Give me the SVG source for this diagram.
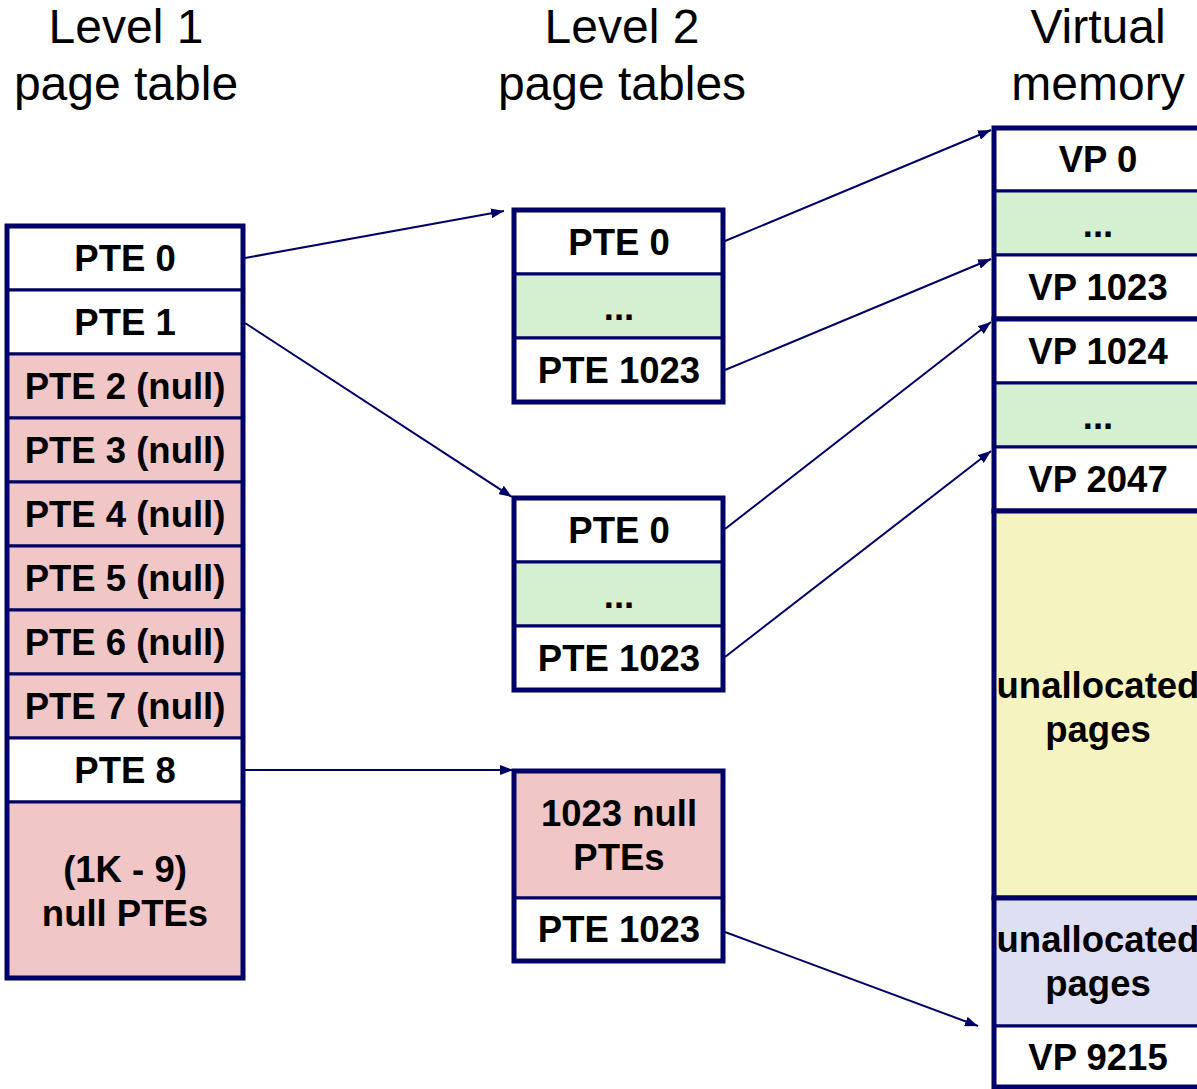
<svg xmlns="http://www.w3.org/2000/svg" width="1197" height="1089" viewBox="0 0 1197 1089">
<style>
.title{font-family:"Liberation Sans",Arial,sans-serif;font-size:48px;fill:#000;text-anchor:middle}
.t{font-family:"Liberation Sans",Arial,sans-serif;font-size:36.5px;font-weight:bold;fill:#000;text-anchor:middle}
.cell{stroke:#000066;stroke-width:3}
.w{fill:#fff}
.p{fill:#f0c6c6}
.g{fill:#d5f0d0}
.y{fill:#f5f3c0}
.l{fill:#dedff3}
.frame{fill:none;stroke:#000066;stroke-width:5}
.conn{stroke:#000066;stroke-width:2;fill:none;marker-end:url(#ah)}
</style>
<defs>
<marker id="ah" markerUnits="userSpaceOnUse" markerWidth="14" markerHeight="10" refX="13" refY="5" orient="auto">
<path d="M0,0 L13,5 L0,10 Z" fill="#000066"/>
</marker>
</defs>
<rect width="1197" height="1089" fill="#fff"/>

<g id="titles">
<text class="title" x="126" y="43">Level 1</text>
<text class="title" x="126" y="100">page table</text>
<text class="title" x="622" y="43">Level 2</text>
<text class="title" x="622" y="100">page tables</text>
<text class="title" x="1098" y="43">Virtual</text>
<text class="title" x="1098" y="100">memory</text>
</g>

<g id="level1">
<rect class="cell w" x="7" y="226" width="236" height="64"/>
<rect class="cell w" x="7" y="290" width="236" height="64"/>
<rect class="cell p" x="7" y="354" width="236" height="64"/>
<rect class="cell p" x="7" y="418" width="236" height="64"/>
<rect class="cell p" x="7" y="482" width="236" height="64"/>
<rect class="cell p" x="7" y="546" width="236" height="64"/>
<rect class="cell p" x="7" y="610" width="236" height="64"/>
<rect class="cell p" x="7" y="674" width="236" height="64"/>
<rect class="cell w" x="7" y="738" width="236" height="64"/>
<rect class="cell p" x="7" y="802" width="236" height="176"/>
<rect class="frame" x="7" y="226" width="236" height="752"/>
<text class="t" x="125" y="271">PTE 0</text>
<text class="t" x="125" y="335">PTE 1</text>
<text class="t" x="125" y="399">PTE 2 (null)</text>
<text class="t" x="125" y="463">PTE 3 (null)</text>
<text class="t" x="125" y="527">PTE 4 (null)</text>
<text class="t" x="125" y="591">PTE 5 (null)</text>
<text class="t" x="125" y="655">PTE 6 (null)</text>
<text class="t" x="125" y="719">PTE 7 (null)</text>
<text class="t" x="125" y="783">PTE 8</text>
<text class="t" x="125" y="882">(1K - 9)</text>
<text class="t" x="125" y="926">null PTEs</text>
</g>

<g id="level2-a">
<rect class="cell w" x="514" y="210" width="209" height="64"/>
<rect class="cell g" x="514" y="274" width="209" height="64"/>
<rect class="cell w" x="514" y="338" width="209" height="64"/>
<rect class="frame" x="514" y="210" width="209" height="192"/>
<text class="t" x="619" y="255">PTE 0</text>
<text class="t" x="619" y="320">...</text>
<text class="t" x="619" y="383">PTE 1023</text>
</g>

<g id="level2-b">
<rect class="cell w" x="514" y="498" width="209" height="64"/>
<rect class="cell g" x="514" y="562" width="209" height="64"/>
<rect class="cell w" x="514" y="626" width="209" height="64"/>
<rect class="frame" x="514" y="498" width="209" height="192"/>
<text class="t" x="619" y="543">PTE 0</text>
<text class="t" x="619" y="608">...</text>
<text class="t" x="619" y="671">PTE 1023</text>
</g>

<g id="level2-c">
<rect class="cell p" x="514" y="771" width="209" height="127"/>
<rect class="cell w" x="514" y="898" width="209" height="63"/>
<rect class="frame" x="514" y="771" width="209" height="190"/>
<text class="t" x="619" y="826">1023 null</text>
<text class="t" x="619" y="870">PTEs</text>
<text class="t" x="619" y="942">PTE 1023</text>
</g>

<g id="vm-1">
<rect class="cell w" x="994" y="128" width="208" height="63"/>
<rect class="cell g" x="994" y="191" width="208" height="64"/>
<rect class="cell w" x="994" y="255" width="208" height="64"/>
<rect class="frame" x="994" y="128" width="208" height="191"/>
<text class="t" x="1098" y="172">VP 0</text>
<text class="t" x="1098" y="237">...</text>
<text class="t" x="1098" y="300">VP 1023</text>
</g>

<g id="vm-2">
<rect class="cell w" x="994" y="319" width="208" height="64"/>
<rect class="cell g" x="994" y="383" width="208" height="64"/>
<rect class="cell w" x="994" y="447" width="208" height="64"/>
<rect class="frame" x="994" y="319" width="208" height="192"/>
<text class="t" x="1098" y="364">VP 1024</text>
<text class="t" x="1098" y="429">...</text>
<text class="t" x="1098" y="492">VP 2047</text>
</g>

<g id="vm-unalloc-1">
<rect class="y" x="994" y="511" width="208" height="387"/>
<rect class="frame" x="994" y="511" width="208" height="387"/>
<text class="t" x="1098" y="698">unallocated</text>
<text class="t" x="1098" y="742">pages</text>
</g>

<g id="vm-3">
<rect class="cell l" x="994" y="898" width="208" height="128"/>
<rect class="cell w" x="994" y="1026" width="208" height="61"/>
<rect class="frame" x="994" y="898" width="208" height="189"/>
<text class="t" x="1098" y="952">unallocated</text>
<text class="t" x="1098" y="996">pages</text>
<text class="t" x="1098" y="1070">VP 9215</text>
</g>

<g id="connectors">
<line class="conn" x1="245" y1="258" x2="504" y2="211"/>
<line class="conn" x1="245" y1="323" x2="512" y2="497"/>
<line class="conn" x1="245" y1="770" x2="513" y2="770"/>
<line class="conn" x1="725" y1="241" x2="991" y2="130"/>
<line class="conn" x1="725" y1="370" x2="991" y2="259"/>
<line class="conn" x1="725" y1="529" x2="991" y2="322"/>
<line class="conn" x1="725" y1="657" x2="991" y2="451"/>
<line class="conn" x1="725" y1="932" x2="978" y2="1026"/>
</g>
</svg>
